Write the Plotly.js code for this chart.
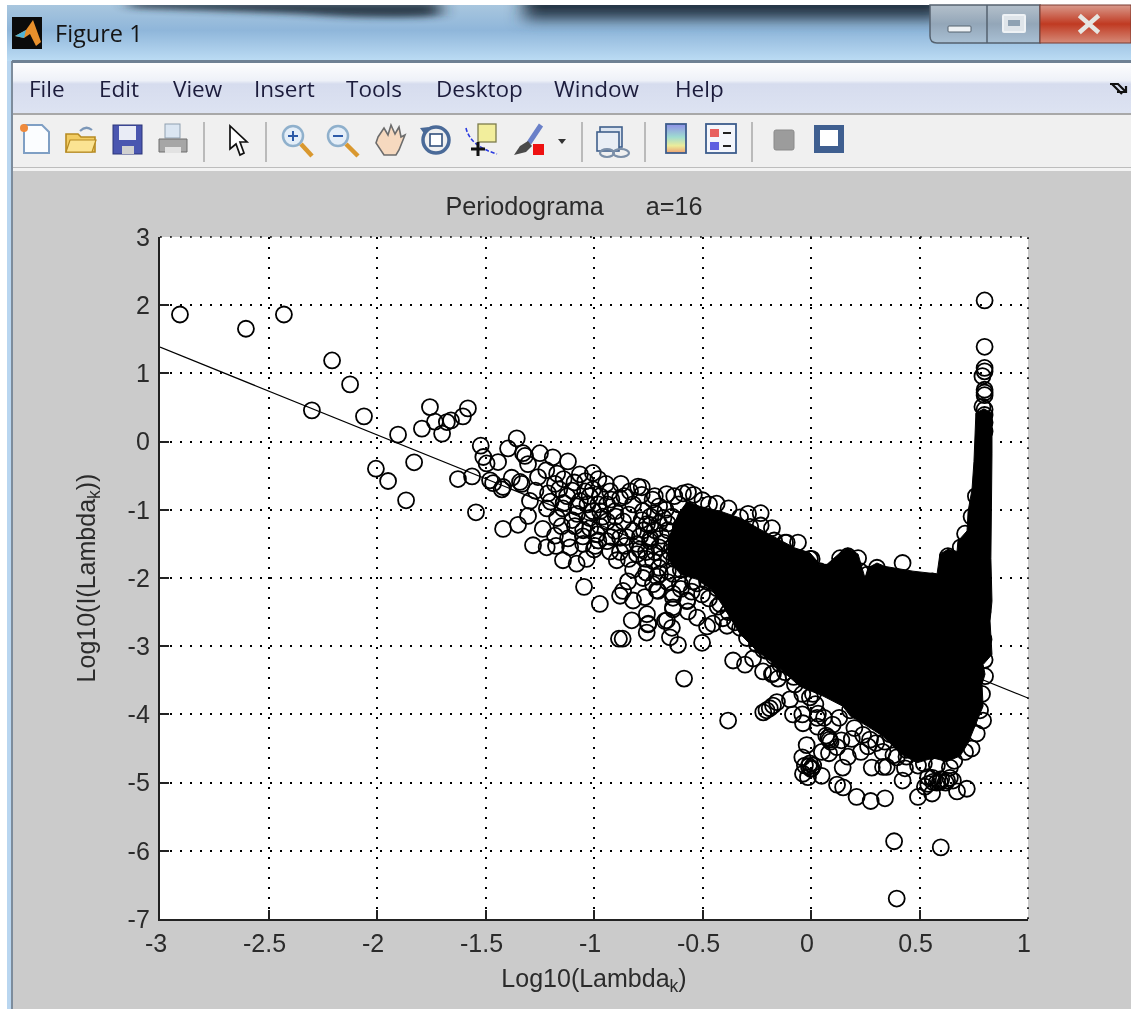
<!DOCTYPE html>
<html>
<head>
<meta charset="utf-8">
<script src="https://cdn.plot.ly/plotly-3.0.1.min.js"></script>
<style>
html,body{margin:0;padding:0;background:#fff;width:1131px;height:1009px;overflow:hidden}
#stage{position:relative;width:1131px;height:1009px;filter:blur(0.45px)}
#chrome{position:absolute;left:0;top:0}
#plot{position:absolute;left:0;top:0;width:1131px;height:1009px}
</style>
</head>
<body>
<div id="stage">
<svg id="chrome" width="1131" height="1009" viewBox="0 0 1131 1009">
<defs>
<linearGradient id="tb" x1="0" y1="0" x2="0" y2="1"><stop offset="0" stop-color="#a8c6de"/><stop offset="0.45" stop-color="#8fb6da"/><stop offset="1" stop-color="#bcdcf4"/></linearGradient>
<linearGradient id="streak" x1="0" y1="0" x2="0" y2="1"><stop offset="0" stop-color="#121c28" stop-opacity="1"/><stop offset="0.5" stop-color="#243648" stop-opacity="0.8"/><stop offset="1" stop-color="#4a6a88" stop-opacity="0"/></linearGradient>
<linearGradient id="menu" x1="0" y1="0" x2="0" y2="1"><stop offset="0" stop-color="#fdfdfe"/><stop offset="0.35" stop-color="#eef1f8"/><stop offset="0.42" stop-color="#d6dcee"/><stop offset="1" stop-color="#dde3f2"/></linearGradient>
<linearGradient id="btn" x1="0" y1="0" x2="0" y2="1"><stop offset="0" stop-color="#b4c0cb"/><stop offset="0.5" stop-color="#93a6b8"/><stop offset="1" stop-color="#a9c0d4"/></linearGradient>
<linearGradient id="close" x1="0" y1="0" x2="0" y2="1"><stop offset="0" stop-color="#d99a8c"/><stop offset="0.5" stop-color="#c03a22"/><stop offset="1" stop-color="#d58a78"/></linearGradient>
<linearGradient id="cbar" x1="0" y1="0" x2="0" y2="1"><stop offset="0" stop-color="#8f8fe8"/><stop offset="0.45" stop-color="#9fdcd0"/><stop offset="0.75" stop-color="#ecec9a"/><stop offset="1" stop-color="#eea070"/></linearGradient>
<filter id="soft" filterUnits="userSpaceOnUse" x="0" y="-40" width="1131" height="120"><feGaussianBlur stdDeviation="9 3"/></filter>
</defs>
<rect width="1131" height="1009" fill="#fff"/>
<rect x="7" y="5" width="1124" height="56" fill="url(#tb)"/>
<path d="M130 2H300Q380 2 440 2V16Q380 20 300 14Q200 10 130 8z" fill="#1c2a38" opacity="0.85" filter="url(#soft)"/>
<rect x="524" y="0" width="420" height="30" fill="url(#streak)" filter="url(#soft)"/>
<rect x="0" y="0" width="1131" height="5" fill="#fff"/>
<rect x="7" y="61" width="5" height="948" fill="#b9d6f0"/>
<rect x="11" y="61" width="2" height="948" fill="#7d8c9c"/>
<rect x="12" y="60" width="1119" height="3" fill="#6f8194"/>
<rect x="13" y="63" width="1118" height="50" fill="url(#menu)"/>
<rect x="13" y="113" width="1118" height="2" fill="#a8a8a8"/>
<rect x="13" y="115" width="1118" height="52" fill="#f0f0f0"/>
<rect x="13" y="167" width="1118" height="1" fill="#bdbdbd"/>
<rect x="13" y="168" width="1118" height="3" fill="#f3f3f3"/>
<rect x="13" y="171" width="1118" height="838" fill="#cbcbcb"/>
<!-- window buttons -->
<path d="M930 5V36q0 7 7 7H1040V5z" fill="url(#btn)" stroke="#55626f" stroke-width="1.5"/>
<rect x="1040" y="5" width="91" height="38" fill="url(#close)" stroke="#7a3a30" stroke-width="1"/>
<line x1="987" y1="5" x2="987" y2="43" fill="none" stroke="#55626f" stroke-width="1.5"/>
<rect x="948" y="26" width="23" height="6" rx="1" fill="#eef2f5" stroke="#55626f"/>
<rect x="1003" y="15" width="22" height="17" rx="1" fill="#dfe5ea" stroke="#eef2f5" stroke-width="2"/>
<rect x="1008" y="20" width="12" height="6" fill="#8fa2b3"/>
<path d="M1081 17L1097 31M1097 17L1081 31" stroke="#e6e6e2" stroke-width="4.5" stroke-linecap="square"/>
<!-- matlab logo -->
<rect x="12" y="17" width="30" height="32" fill="#0b0b0b"/>
<path d="M15 36L26 30L33 20L41 42L36 46L30 34L24 38z" fill="#e8902c"/>
<path d="M15 36L26 30L24 38z" fill="#4fb4d8"/>
<!-- small menu arrow -->
<path d="M1110 84L1118 84L1126 92M1117 92L1126 92L1126 86M1112 84L1122 94" stroke="#111" stroke-width="2.2" fill="none"/>
<!-- toolbar separators -->
<g stroke="#a9a9a9" stroke-width="1.5"><line x1="204" y1="122" x2="204" y2="162"/><line x1="266" y1="122" x2="266" y2="162"/><line x1="582" y1="122" x2="582" y2="162"/><line x1="645" y1="122" x2="645" y2="162"/><line x1="752" y1="122" x2="752" y2="162"/></g>
<!-- new -->
<path d="M24 125H42L49 132V153H24z" fill="#fbfdff" stroke="#7f9fc4" stroke-width="2"/>
<circle cx="24" cy="128" r="4" fill="#ef8a3c"/>
<!-- open -->
<path d="M66 134H78L81 137H95V152H66z" fill="#f2cc62" stroke="#b68a22" stroke-width="1.6"/>
<path d="M70 140H96L92 152H66z" fill="#fbe392" stroke="#b68a22" stroke-width="1.2"/>
<path d="M80 131q6-6 12-1" fill="none" stroke="#7c97b8" stroke-width="2.2"/>
<!-- save -->
<rect x="113" y="125" width="29" height="29" fill="#4a56b0" stroke="#2b3478"/>
<rect x="119" y="126" width="17" height="14" fill="#e9ecf6"/>
<rect x="122" y="146" width="12" height="8" fill="#d0d0d0"/>
<!-- print -->
<rect x="165" y="124" width="15" height="14" fill="#dbe6f2" stroke="#8fa0b0"/>
<path d="M159 139H187V152H159z" fill="#a6a6a6" stroke="#6e6e6e"/>
<rect x="165" y="147" width="16" height="6" fill="#e2e2e2"/>
<!-- pointer -->
<path d="M230 126L230 149L236 144L240 155L244 153L240 142L247 142z" fill="#fff" stroke="#111" stroke-width="1.7"/>
<!-- zoom in/out -->
<circle cx="293" cy="136" r="10" fill="#e4eef8" stroke="#8fb0cc" stroke-width="2.5"/><path d="M301 144L312 156" stroke="#d9982f" stroke-width="4.5"/><path d="M288 136H298M293 131V141" stroke="#2c5aa8" stroke-width="2"/>
<circle cx="338" cy="136" r="10" fill="#e4eef8" stroke="#8fb0cc" stroke-width="2.5"/><path d="M346 144L358 156" stroke="#d9982f" stroke-width="4.5"/><path d="M333 136H343" stroke="#2c5aa8" stroke-width="2"/>
<!-- hand -->
<path d="M378 137L384 128L388 135L391 125L395 134L399 127L401 137L405 135L399 150L396 155H384L376 143z" fill="#f6d9bf" stroke="#6c6c6c" stroke-width="1.6"/>
<!-- rotate -->
<circle cx="436" cy="140" r="13" fill="none" stroke="#4a6a98" stroke-width="3.5"/><rect x="430" y="134" width="12" height="12" fill="#fff" stroke="#33507c" stroke-width="1.6"/><path d="M420 128L429 127L425 135z" fill="#4a6a98"/>
<!-- data cursor -->
<rect x="478" y="124" width="18" height="18" fill="#f2ee9c" stroke="#7c7c4c" stroke-width="1.3"/>
<path d="M466 128Q470 146 497 154" fill="none" stroke="#2a3ae0" stroke-width="1.6" stroke-dasharray="4 2"/>
<path d="M471 149H485M478 142V156" stroke="#111" stroke-width="3"/>
<!-- brush -->
<path d="M541 125L529 143" stroke="#6a80c8" stroke-width="5"/><path d="M528 141L520 146L514 155L526 152L532 146z" fill="#4a4a4a"/>
<rect x="533" y="144" width="11" height="11" fill="#ee1111"/>
<path d="M558 139H566L562 144z" fill="#333"/>
<!-- link -->
<rect x="600" y="127" width="22" height="20" fill="#dbe4f0" stroke="#40608c" stroke-width="1.6"/>
<rect x="597" y="132" width="22" height="19" fill="#e9eef5" stroke="#40608c" stroke-width="1.6"/>
<ellipse cx="607" cy="153" rx="7" ry="4" fill="none" stroke="#7b8fa8" stroke-width="2.2"/><ellipse cx="621" cy="153" rx="8" ry="4" fill="none" stroke="#7b8fa8" stroke-width="2.2"/>
<!-- colorbar -->
<rect x="666" y="124" width="20" height="29" fill="url(#cbar)" stroke="#3c5c8c" stroke-width="1.8"/>
<!-- legend -->
<rect x="706" y="124" width="30" height="29" fill="#f4f6fb" stroke="#3c5c8c" stroke-width="1.8"/>
<rect x="710" y="129" width="9" height="8" fill="#e86060"/><rect x="710" y="142" width="9" height="8" fill="#6060e0"/>
<path d="M723 133H731M723 146H731" stroke="#222" stroke-width="2"/>
<!-- gray square / plot tools -->
<rect x="774" y="130" width="20" height="20" rx="2" fill="#9c9c9c" stroke="#8a8a8a"/>
<rect x="814" y="125" width="30" height="28" fill="#3f5f90"/><rect x="820" y="130" width="18" height="16" fill="#fff"/>
</svg>
<div id="plot"></div>
</div>
<script>
// Fitted regression line
const fitX = [-3, 1];
const fitY = [1.385, -3.76];

// Isolated low-frequency points
const tailX = [-2.908,-2.604,-2.429,-2.207,-2.124,-2.30,-2.06,-1.903,-2.005,-1.949,-1.866,-1.829,-1.756,-1.793,-1.733,-1.70,-1.678,-1.659,-1.604,-1.581,-1.627,-1.562,-1.544];
const tailY = [1.864,1.655,1.864,1.19,0.839,0.458,0.37,0.102,-0.397,-0.578,-0.861,-0.304,0.506,0.19,0.292,0.117,0.287,0.31,0.37,0.487,-0.549,-0.51,-1.037];

// Cluster between log-lambda -1.5 and -0.7
const clusterX = [-1.522,-1.51,-1.495,-1.442,-1.479,-1.419,-1.341,-1.396,-1.356,-1.327,-1.249,-1.318,-1.19,-1.12,-1.304,-1.258,-1.379,-1.465,-1.333,-1.425,-1.295,-1.304,-1.35,-1.419,-1.236,-1.149,-1.281,-1.218,-1.175,-1.11,-1.143,-1.08,-1.034,-0.895,-1.046,-0.843,-0.866,-0.945,-0.876,-0.797,-1.005,-1.065,-1.005,-1.065,-1.124,-1.18,-1.212,-1.143,-1.217,-1.078,-1.005,-0.94,-0.88,-0.82,-0.774,-0.94,-0.866,-0.986,-0.94,-1.018,-0.88,-0.82,-0.756,-0.742,-0.802,-0.728,-1.041,-0.972,-0.926,-0.834,-0.972,-0.903,-1.088,-1.051,-0.972,-0.903,-0.857,-0.788,-0.926,-0.995];
const clusterY = [-0.06,-0.226,-0.32,-0.30,-0.568,-0.666,-0.592,-0.10,0.047,-0.17,-0.17,-0.21,-0.23,-0.29,-0.33,-0.52,-0.53,-0.61,-0.62,-0.70,-0.87,-1.09,-1.22,-1.28,-1.28,-1.24,-1.52,-1.55,-1.53,-1.55,-1.74,-1.79,-1.72,-1.74,-2.13,-2.05,-2.19,-0.62,-0.62,-0.66,-0.46,-0.48,-0.70,-0.87,-0.80,-0.62,-0.76,-0.98,-0.98,-1.06,-1.02,-0.92,-0.83,-0.92,-1.02,-1.17,-1.17,-1.36,-1.46,-1.27,-1.41,-1.31,-1.21,-1.46,-1.65,-1.75,-0.73,-0.80,-0.73,-0.73,-1.02,-1.02,-1.24,-1.39,-1.24,-1.31,-1.53,-1.39,-1.61,-1.53];

// Further points where the cluster thickens towards the mass
const denseX = [-1.22,-1.17,-1.14,-1.09,-1.04,-0.98,-1.16,-1.10,-1.02,-1.08,-1.14,-1.20,-1.27,-1.03,-0.98,-0.92,-0.86,-0.78,-0.73,-0.70,-0.74,-0.70,-0.78,-0.84,-0.90,-0.96,-1.02,-1.10,-1.17,-1.05,-0.98,-0.92,-0.85,-0.77,-0.80,-0.88,-0.84,-0.76,-0.70,-0.69,-0.66,-0.64,-0.67,-0.61,-0.60,-0.62,-0.65,-0.69,-0.60,-0.72,-0.63,-0.50,-0.47,-0.38,-0.29,-0.18,-0.06,-1.00,-1.05,-1.12,-1.18,-0.82,-0.76,-0.71,-0.66,-0.60,-0.55,-0.47,-0.43,-0.38,-0.35,-0.30,-0.24,-0.22,-0.17,-0.12,-0.08,-0.04,0.02,0.06,0.10,0.13,0.20,0.24,0.30,0.33,0.38,0.44,0.52,0.58,0.66,0.71,0.74,0.12,0.03,-0.02,0.05,0.14,0.23,0.34,0.42,0.44,-0.72,-0.68,-0.66,-0.72,-0.74,-0.68,-0.64,-0.72,-0.63,-0.70,-0.66,-0.60,-0.76,-0.79,-0.74];
const denseY = [-0.42,-0.47,-0.55,-0.60,-0.58,-0.55,-0.70,-0.72,-0.80,-0.95,-0.90,-0.88,-0.72,-0.92,-0.92,-0.85,-0.80,-0.78,-0.85,-0.95,-1.10,-1.20,-1.15,-1.07,-1.10,-1.10,-1.12,-1.15,-1.12,-1.30,-1.45,-1.40,-1.40,-1.30,-1.50,-1.62,-1.72,-1.62,-1.55,-1.38,-1.30,-1.10,-1.00,-0.92,-1.25,-1.45,-1.62,-1.72,-1.70,-0.80,-0.80,-0.86,-0.92,-0.98,-1.06,-1.27,-1.48,-1.58,-1.50,-1.42,-1.38,-1.88,-1.92,-1.98,-2.06,-2.16,-2.20,-2.30,-2.42,-2.50,-2.65,-2.62,-2.75,-3.05,-3.15,-3.38,-3.45,-3.70,-3.85,-4.05,-4.15,-4.05,-4.20,-4.30,-4.42,-4.55,-4.60,-4.62,-4.72,-4.75,-4.68,-4.55,-4.50,-4.48,-4.18,-4.45,-4.55,-4.38,-4.55,-4.40,-4.40,-4.52,-1.05,-1.12,-1.20,-1.30,-1.42,-1.48,-1.55,-1.62,-1.72,-1.85,-1.90,-1.88,-1.72,-1.58,-1.22];

// Points under the main mass, left side
const lowerLeftX = [-0.88,-0.82,-0.765,-0.664,-0.636,-0.571,-0.525,-0.452,-0.387,-0.525,-0.636,-0.71,-0.973,-0.826,-0.868,-0.885,-0.757,-0.75,-0.65,-0.613,-0.502,-0.585,-0.382,-0.359,-0.304,-0.267,-0.175,-0.152,-0.22,-0.19,-0.157,-0.205,-0.175,-0.636,-0.571,-0.636,-0.479,-0.751,-0.673,-0.641,-0.567,-0.502,-0.705,-0.756,-0.604,-0.544,-0.479,-0.419,-0.406,-0.327,-0.295,-0.267,-0.249,-0.203,-0.327,-0.373,-0.433,-0.728,-0.774,-0.696,-0.636,-0.143,-0.074,0.009,-0.083,-0.037,0.028,-0.097,-0.18,-0.221];
const lowerLeftY = [-2.26,-2.33,-2.28,-2.62,-2.43,-2.33,-2.58,-2.67,-2.70,-2.08,-2.23,-2.18,-2.38,-2.62,-2.89,-2.89,-2.80,-2.67,-2.87,-2.98,-2.95,-3.475,-4.09,-3.21,-3.27,-3.18,-3.40,-3.475,-3.97,-3.91,-3.82,-3.94,-3.87,-2.29,-2.34,-2.46,-2.71,-2.68,-2.63,-2.73,-2.49,-2.24,-2.19,-2.53,-2.09,-2.05,-2.05,-2.38,-2.59,-2.73,-2.88,-2.73,-2.97,-3.07,-2.53,-2.29,-2.15,-2.09,-2.0,-1.94,-1.94,-3.26,-3.56,-3.70,-4.0,-4.13,-4.05,-3.78,-3.41,-3.37];

// Points under the main mass, right side
const lowerRightX = [0.395,0.383,0.598,0.341,0.275,0.21,0.148,0.12,0.049,-0.014,-0.037,-0.028,-0.04,0.003,0.493,0.558,0.673,0.718,0.525,0.562,0.594,0.627,0.654,0.54,0.422,0.349,0.28,0.332,0.146,0.17,0.083,0.433,0.395,0.493,0.64,0.764,0.793,0.779,0.188,0.08,0.272,0.263,0.364,0.487,0.594,0.18,0.032,-0.04,-0.005,0.07,0.085,0.09,-0.01,0,0.01,-0.005,0.56,0.58,0.60,0.62,0.64,0.54,0.802,0.788];
const lowerRightY = [-6.70,-5.86,-5.95,-5.23,-5.27,-5.21,-5.07,-5.03,-4.90,-4.92,-4.87,-4.75,-4.63,-4.79,-5.21,-5.16,-5.13,-5.09,-5.06,-4.99,-4.99,-4.97,-4.97,-4.92,-4.97,-4.77,-4.78,-4.77,-4.78,-4.62,-4.57,-4.79,-4.63,-4.75,-4.78,-4.28,-4.09,-3.94,-4.36,-4.34,-4.37,-4.47,-4.29,-4.48,-4.52,-3.94,-3.99,-4.0,-3.75,-4.31,-4.37,-4.40,-4.76,-4.8,-4.75,-4.72,-4.93,-5.0,-4.95,-5.0,-4.93,-5.02,-3.44,-3.70];

// Upper and right edge of the main mass
const upperX = [-0.665,-0.567,-0.59,-0.54,-0.435,-0.232,-0.232,-0.12,-0.005,-0.78,-0.327,-0.112,0.003,0.17,0.304,0.422,0.631,0.134,0.217,0.226,0.26,0.38,0.50,0.56,0.04,0.08,-0.05,-0.17,-0.28,0.69,0.71,0.74,0.76,0.79,0.80,0.795];
const upperY = [-0.77,-0.74,-0.76,-0.78,-0.91,-1.05,-1.23,-1.48,-1.72,-0.67,-1.11,-1.48,-1.72,-1.68,-1.85,-1.78,-1.68,-1.71,-1.71,-1.90,-1.95,-2.0,-2.05,-2.05,-1.9,-1.92,-1.72,-1.45,-1.25,-1.55,-1.35,-1.1,-0.8,-2.5,-3.2,-2.9];

// Spike at the highest frequencies
const peakX = [0.80,0.80,0.80,0.80,0.79,0.80,0.80,0.80,0.79,0.80,0.80,0.80,0.80];
const peakY = [2.07,1.39,1.08,1.03,0.96,0.76,0.72,0.68,0.51,0.47,0.39,0.28,0.15];

// Outline of the solid mass of overlapping circles
const massX = [-0.66,-0.61,-0.57,-0.512,-0.419,-0.327,-0.221,-0.129,-0.074,-0.005,0.041,0.074,0.134,0.17,0.217,0.249,0.263,0.304,0.341,0.378,0.47,0.581,0.594,0.631,0.673,0.677,0.719,0.724,0.742,0.751,0.76,0.797,0.834,0.834,0.829,0.834,0.825,0.834,0.793,0.802,0.788,0.793,0.756,0.724,0.687,0.627,0.562,0.488,0.41,0.332,0.258,0.18,0.147,0.055,-0.051,-0.157,-0.249,-0.327,-0.406,-0.452,-0.525,-0.60,-0.66];
const massY = [-1.45,-1.05,-0.88,-0.95,-1.02,-1.12,-1.31,-1.46,-1.56,-1.63,-1.80,-1.80,-1.63,-1.56,-1.65,-2.0,-1.85,-1.78,-1.83,-1.85,-1.90,-1.94,-1.65,-1.58,-1.61,-1.46,-1.31,-1.02,-0.70,-0.29,0.42,0.48,0.42,-0.18,-1.71,-2.34,-2.63,-3.12,-3.27,-3.41,-3.56,-3.88,-4.17,-4.42,-4.61,-4.69,-4.64,-4.71,-4.57,-4.32,-4.17,-4.02,-3.88,-3.73,-3.59,-3.29,-3.07,-2.82,-2.41,-2.19,-2.02,-1.95,-1.72];

// Axis ticks
const xTickVals = [-3,-2.5,-2,-1.5,-1,-0.5,0,0.5,1];
const xTickText = ['-3','-2.5','-2','-1.5','-1','-0.5','0','0.5','1'];
const yTickVals = [-7,-6,-5,-4,-3,-2,-1,0,1,2,3];
const yTickText = ['-7','-6','-5','-4','-3','-2','-1','0','1','2','3'];

// Window furniture text
const menuLabels = ['File','Edit','View','Insert','Tools','Desktop','Window','Help'];
const menuStarts = [27,97,171,252,344,434,552,673];

const W = 1131, H = 1009, L = 160, R = 1028.5, T = 236.5, B = 919;
const FONT = '"Liberation Sans", Arial, sans-serif';
const ink = '#2b2b2b';
const px = v => (v - L) / (R - L);
const py = v => (B - v) / (B - T);

const pointsX = [].concat(tailX, clusterX, denseX, lowerLeftX, lowerRightX, upperX, peakX);
const pointsY = [].concat(tailY, clusterY, denseY, lowerLeftY, lowerRightY, upperY, peakY);

const traces = [
  {x: fitX, y: fitY, mode: 'lines', line: {color: '#000', width: 1.2}, hoverinfo: 'skip'},
  {x: massX, y: massY, mode: 'lines', fill: 'toself', fillcolor: '#000', line: {color: '#000', width: 1}, hoverinfo: 'skip'},
  {x: pointsX, y: pointsY, mode: 'markers', marker: {symbol: 'circle-open', size: 16, color: '#000', line: {width: 1.8, color: '#000'}}}
];

const dotted = '1.8px,8.2px';
const annotations = menuLabels.map((t, i) => ({
  text: t, xref: 'paper', yref: 'paper', x: px(menuStarts[i]), y: py(88), xanchor: 'left', yanchor: 'middle',
  showarrow: false, font: {family: '"Open Sans", sans-serif', size: 22.5, color: '#1c1c3c'}
}));
annotations.push({text: 'Figure 1', xref: 'paper', yref: 'paper', x: px(53), y: py(32), xanchor: 'left', yanchor: 'middle',
  showarrow: false, font: {family: '"Open Sans", sans-serif', size: 23.5, color: '#141414'}});

const layout = {
  width: W, height: H, autosize: false,
  margin: {l: L, r: W - R, t: T, b: H - B, pad: 0},
  paper_bgcolor: 'rgba(0,0,0,0)', plot_bgcolor: '#fff',
  showlegend: false,
  title: {text: 'Periodograma\u00a0\u00a0\u00a0\u00a0\u00a0\u00a0a=16', xref: 'container', yref: 'container', x: 574 / W, y: 1 - 206 / H, xanchor: 'center', yanchor: 'middle',
    font: {family: FONT, size: 25.2, color: ink}},
  xaxis: {range: [-3, 1], tickmode: 'array', tickvals: xTickVals, ticktext: xTickText, ticks: 'inside', ticklen: 9, tickwidth: 1.6, tickcolor: '#222',
    showgrid: true, gridcolor: '#000', gridwidth: 1.6, griddash: dotted, zeroline: false, showline: true, linecolor: '#222', linewidth: 2.4,
    tickfont: {family: FONT, size: 25, color: ink}, ticklabelshift: -4, ticklabelstandoff: 1,
    title: {text: 'Log10(Lambda<sub>k</sub>)', standoff: 13, font: {family: FONT, size: 25, color: ink}}},
  yaxis: {range: [-7, 3], tickmode: 'array', tickvals: yTickVals, ticktext: yTickText, ticks: 'inside', ticklen: 9, tickwidth: 1.6, tickcolor: '#222',
    showgrid: true, gridcolor: '#000', gridwidth: 1.6, griddash: dotted, zeroline: false, showline: true, linecolor: '#222', linewidth: 2.4,
    tickfont: {family: FONT, size: 25, color: ink}, ticklabelstandoff: 3,
    title: {text: 'Log10(I(Lambda<sub>k</sub>))', standoff: 25, font: {family: FONT, size: 25, color: ink}}},
  shapes: [
    {type: 'line', xref: 'paper', yref: 'paper', x0: 0, x1: 1, y0: 1, y1: 1, line: {color: '#000', width: 1.6, dash: dotted}},
    {type: 'line', xref: 'paper', yref: 'paper', x0: 1, x1: 1, y0: 0, y1: 1, line: {color: '#000', width: 1.6, dash: dotted}}
  ],
  annotations: annotations
};

Plotly.newPlot('plot', traces, layout, {displayModeBar: false, responsive: false});
</script>
</body>
</html>
